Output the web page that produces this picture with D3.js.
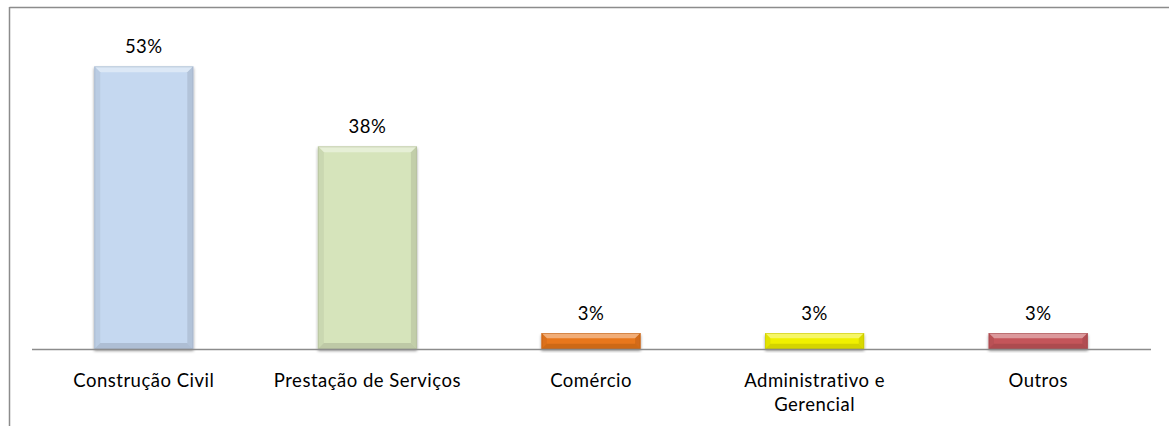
<!DOCTYPE html>
<html><head><meta charset="utf-8">
<script src="https://cdn.jsdelivr.net/npm/d3@7"></script>
<style>html,body{margin:0;padding:0;background:#fff;}svg{display:block;}</style>
</head><body><svg id="c" width="1169" height="426"></svg>
<script>
const categories = ["Construção Civil", "Prestação de Serviços", "Comércio", "Administrativo e Gerencial", "Outros"];
const values = [53, 38, 3, 3, 3];
const labels = ["53%", "38%", "3%", "3%", "3%"];
const colors = ["#c5d8f0", "#d6e4bb", "#e8771c", "#f0f000", "#c4555a"];

const svg = d3.select("#c");
const W = 1169, H = 426;
const font = "Lato, 'Open Sans', sans-serif";

// frame
svg.append("line").attr("x1", 9.5).attr("x2", W).attr("y1", 7.5).attr("y2", 7.5).attr("stroke", "#8c8c8c").attr("stroke-width", 1.5);
svg.append("line").attr("x1", 9.5).attr("x2", 9.5).attr("y1", 7).attr("y2", H).attr("stroke", "#8c8c8c").attr("stroke-width", 1.5);

const x = d3.scaleBand().domain(categories).range([32, 1150]).paddingInner(0.557).paddingOuter(0.2785);
const y = d3.scaleLinear().domain([0, 60]).range([349, 29]);

const defs = svg.append("defs");
const f = defs.append("filter").attr("id", "sh").attr("x", "-10%").attr("y", "-10%").attr("width", "120%").attr("height", "130%");
f.append("feGaussianBlur").attr("in", "SourceAlpha").attr("stdDeviation", 1.5).attr("result", "b");
f.append("feOffset").attr("in", "b").attr("dx", 0).attr("dy", 2).attr("result", "o");
f.append("feComponentTransfer").attr("in", "o").attr("result", "o2").append("feFuncA").attr("type", "linear").attr("slope", 0.4);
const m = f.append("feMerge"); m.append("feMergeNode").attr("in", "o2"); m.append("feMergeNode").attr("in", "SourceGraphic");

const g = svg.append("g");
categories.forEach((c, i) => {
  const x0 = x(c), w = x.bandwidth(), y0 = y(values[i]), y1 = y(0), h = y1 - y0;
  const col = d3.color(colors[i]);
  const bg = g.append("g").attr("filter", "url(#sh)");
  bg.append("rect").attr("x", x0).attr("y", y0).attr("width", w).attr("height", h).attr("fill", col.formatHex());
  const b = Math.min(6, h / 3);
  const light = d3.interpolateRgb(col, "#ffffff")(0.4);
  const dark = col.darker(0.4).formatHex();
  const dark2 = col.darker(0.6).formatHex();
  bg.append("polygon").attr("points", [[x0, y0], [x0 + w, y0], [x0 + w - b, y0 + b], [x0 + b, y0 + b]].join(" ")).attr("fill", light);
  bg.append("polygon").attr("points", [[x0, y0], [x0 + b, y0 + b], [x0 + b, y1 - b], [x0, y1]].join(" ")).attr("fill", dark).attr("opacity", 0.4);
  bg.append("polygon").attr("points", [[x0 + w, y0], [x0 + w - b, y0 + b], [x0 + w - b, y1 - b], [x0 + w, y1]].join(" ")).attr("fill", dark2).attr("opacity", 0.5);
  bg.append("polygon").attr("points", [[x0, y1], [x0 + b, y1 - b], [x0 + w - b, y1 - b], [x0 + w, y1]].join(" ")).attr("fill", dark2).attr("opacity", 0.6);
  bg.append("rect").attr("x", x0 + 0.5).attr("y", y0 + 0.5).attr("width", w - 1).attr("height", h - 1).attr("fill", "none").attr("stroke", dark2).attr("stroke-opacity", 0.5);

  g.append("text").attr("x", x0 + w / 2).attr("y", y0 - 13).attr("text-anchor", "middle")
    .attr("font-family", font).attr("font-size", 18.5).attr("letter-spacing", 0.5).attr("fill", "#000").text(labels[i]);
});

svg.append("line").attr("x1", 32).attr("x2", 1151).attr("y1", y(0) + 0.5).attr("y2", y(0) + 0.5).attr("stroke", "#8c8c8c").attr("stroke-width", 1.5);

const ax = svg.append("g").attr("transform", `translate(0,${y(0)})`)
  .call(d3.axisBottom(x).tickSize(0).tickPadding(0));
ax.select(".domain").remove();
ax.selectAll("text").attr("font-family", font).attr("font-size", 18.5).attr("letter-spacing", 0.5).attr("fill", "#000").attr("dy", null).attr("y", 0)
  .each(function(d) {
    const t = d3.select(this); t.text(null);
    const lines = d === "Administrativo e Gerencial" ? ["Administrativo e", "Gerencial"] : [d];
    lines.forEach((l, k) => t.append("tspan").attr("x", 0).attr("y", 38 + k * 24).text(l));
  });
</script></body></html>
